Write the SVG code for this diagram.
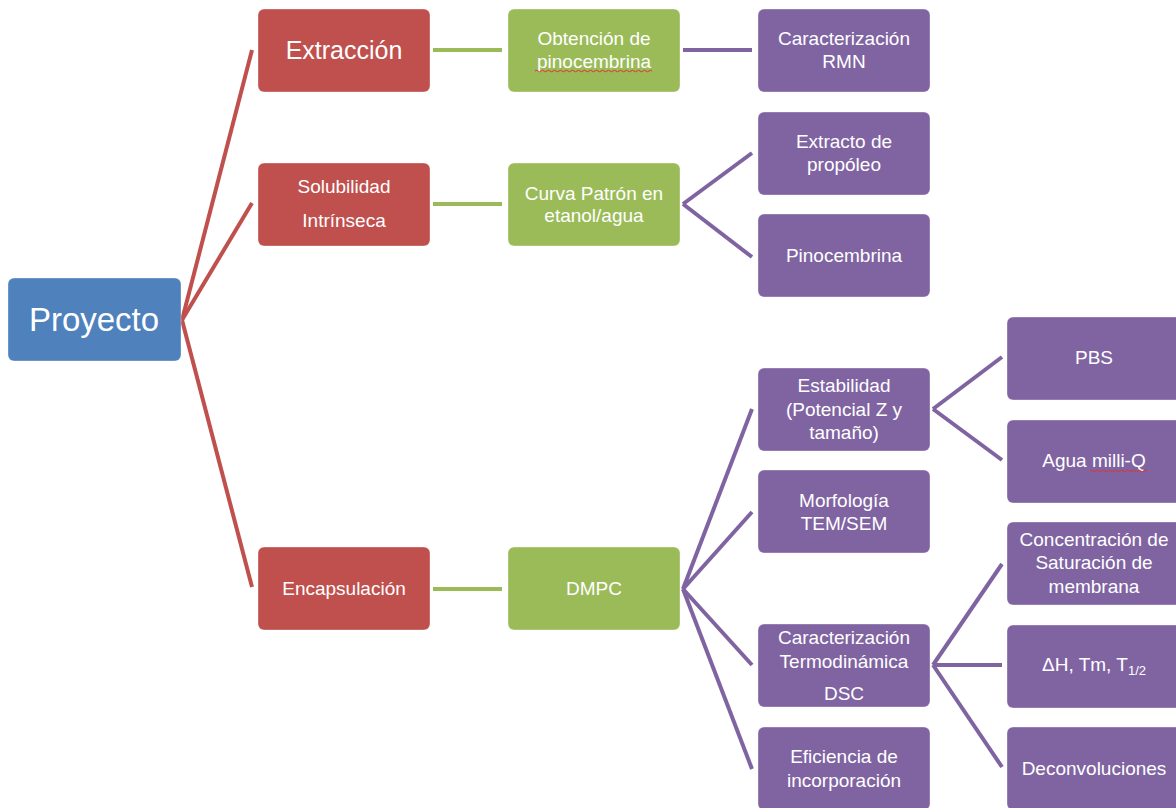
<svg xmlns="http://www.w3.org/2000/svg" width="1176" height="808" viewBox="0 0 1176 808">
<style>
.n rect{rx:6;ry:6;stroke:#ffffff;stroke-opacity:0.35;stroke-width:1}
.blue rect{fill:#4F81BD}
.red rect{fill:#C0504D}
.green rect{fill:#9BBB59}
.purple rect{fill:#8064A2}
text{font-family:"Liberation Sans",Arial,sans-serif;font-size:19px;fill:#ffffff;text-anchor:middle}
.c line{stroke-width:4;stroke-linecap:butt}
.cr line{stroke:#C0504D}
.cg line{stroke:#9BBB59}
.cp line{stroke:#8064A2}
.sp{fill:none;stroke:#E03030;stroke-width:1}
</style>
<rect width="1176" height="808" fill="#ffffff"/>
<g id="connectors" class="c">
<g class="cr">
<line x1="182" y1="320" x2="252" y2="50"/>
<line x1="182" y1="320" x2="252" y2="203"/>
<line x1="182" y1="320" x2="252" y2="587"/>
</g>
<g class="cg">
<line x1="433" y1="50" x2="502" y2="50"/>
<line x1="433" y1="204" x2="502" y2="204"/>
<line x1="433" y1="589" x2="502" y2="589"/>
</g>
<g class="cp">
<line x1="683" y1="50" x2="752" y2="50"/>
<line x1="683" y1="204" x2="752" y2="153"/>
<line x1="683" y1="204" x2="752" y2="257"/>
<line x1="683" y1="589" x2="752" y2="409"/>
<line x1="683" y1="589" x2="752" y2="512"/>
<line x1="683" y1="589" x2="752" y2="665"/>
<line x1="683" y1="589" x2="752" y2="769"/>
<line x1="933" y1="409" x2="1002" y2="357"/>
<line x1="933" y1="409" x2="1002" y2="460"/>
<line x1="933" y1="665" x2="1002" y2="564"/>
<line x1="933" y1="665" x2="1002" y2="665"/>
<line x1="933" y1="665" x2="1002" y2="767"/>
</g>
</g>
<g id="proyecto" class="n blue"><rect x="8" y="278" width="173" height="83"/><text x="94" y="331" style="font-size:33px">Proyecto</text></g>
<g id="extraccion" class="n red"><rect x="258" y="9" width="172" height="83"/><text x="344" y="59" style="font-size:25px">Extracción</text></g>
<g id="solubilidad" class="n red"><rect x="258" y="163" width="172" height="83"/><text x="344" y="193">Solubilidad</text><text x="344" y="227">Intrínseca</text></g>
<g id="encapsulacion" class="n red"><rect x="258" y="547" width="172" height="83"/><text x="344" y="595">Encapsulación</text></g>
<g id="obtencion" class="n green"><rect x="508" y="9" width="172" height="83"/><text x="594" y="45">Obtención de</text><text x="594" y="68">pinocembrina</text><path class="sp" d="M535 71 q1.5 -1.5 3 0 t3 0 t3 0 t3 0 t3 0 t3 0 t3 0 t3 0 t3 0 t3 0 t3 0 t3 0 t3 0 t3 0 t3 0 t3 0 t3 0 t3 0 t3 0 t3 0 t3 0 t3 0 t3 0 t3 0 t3 0 t3 0 t3 0 t3 0 t3 0 t3 0 t3 0 t3 0 t3 0 t3 0 t3 0 t3 0 t3 0 t3 0 t3 0"/></g>
<g id="curva" class="n green"><rect x="508" y="163" width="172" height="83"/><text x="594" y="200">Curva Patrón en</text><text x="594" y="222">etanol/agua</text></g>
<g id="dmpc" class="n green"><rect x="508" y="547" width="172" height="83"/><text x="594" y="595">DMPC</text></g>
<g id="rmn" class="n purple"><rect x="758" y="9" width="172" height="83"/><text x="844" y="45">Caracterización</text><text x="844" y="68">RMN</text></g>
<g id="extracto" class="n purple"><rect x="758" y="112" width="172" height="83"/><text x="844" y="148">Extracto de</text><text x="844" y="171">propóleo</text></g>
<g id="pinocembrina" class="n purple"><rect x="758" y="214" width="172" height="83"/><text x="844" y="262">Pinocembrina</text></g>
<g id="estabilidad" class="n purple"><rect x="758" y="368" width="172" height="83"/><text x="844" y="392">Estabilidad</text><text x="844" y="416">(Potencial Z y</text><text x="844" y="439">tamaño)</text></g>
<g id="morfologia" class="n purple"><rect x="758" y="470" width="172" height="83"/><text x="844" y="507">Morfología</text><text x="844" y="530">TEM/SEM</text></g>
<g id="termodinamica" class="n purple"><rect x="758" y="624" width="172" height="83"/><text x="844" y="644">Caracterización</text><text x="844" y="668">Termodinámica</text><text x="844" y="700">DSC</text></g>
<g id="eficiencia" class="n purple"><rect x="758" y="727" width="172" height="83"/><text x="844" y="763">Eficiencia de</text><text x="844" y="787">incorporación</text></g>
<g id="pbs" class="n purple"><rect x="1007" y="317" width="175" height="83"/><text x="1094" y="364">PBS</text></g>
<g id="agua" class="n purple"><rect x="1007" y="420" width="175" height="83"/><text x="1094" y="467">Agua milli-Q</text><path class="sp" d="M1090 471 q1.5 -1.5 3 0 t3 0 t3 0 t3 0 t3 0 t3 0 t3 0 t3 0 t3 0 t3 0 t3 0 t3 0 t3 0 t3 0 t3 0 t3 0 t3 0 t3 0 t3 0"/></g>
<g id="concentracion" class="n purple"><rect x="1007" y="522" width="175" height="83"/><text x="1094" y="546">Concentración de</text><text x="1094" y="569">Saturación de</text><text x="1094" y="593">membrana</text></g>
<g id="deltah" class="n purple"><rect x="1007" y="625" width="175" height="83"/><text x="1094" y="671">ΔH, Tm, T<tspan style="font-size:13px" dy="4">1/2</tspan></text></g>
<g id="deconvoluciones" class="n purple"><rect x="1007" y="727" width="175" height="83"/><text x="1094" y="775">Deconvoluciones</text></g>
</svg>
